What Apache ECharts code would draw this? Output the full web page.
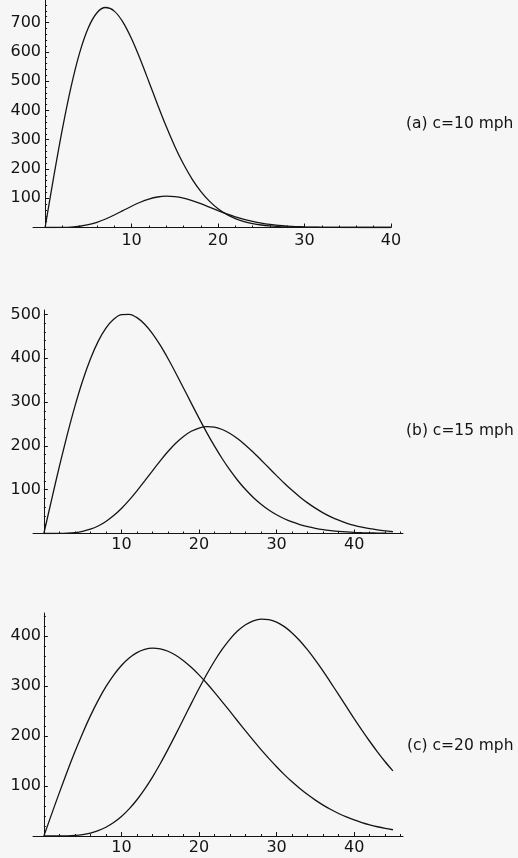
<!DOCTYPE html>
<html>
<head>
<meta charset="utf-8">
<script src="https://cdn.jsdelivr.net/npm/echarts@6/dist/echarts.min.js"></script>
<style>
  html, body { margin: 0; padding: 0; background: #f6f6f6; }
  #chart { width: 518px; height: 858px; }
</style>
</head>
<body>
<div id="chart"></div>
<script>
// wind speed, mph
const speeds = [0, 1, 2, 3, 4, 5, 6, 7, 8, 9, 10, 11, 12, 13, 14, 15, 16, 17, 18, 19, 20,
  21, 22, 23, 24, 25, 26, 27, 28, 29, 30, 31, 32, 33, 34, 35, 36, 37, 38, 39, 40,
  41, 42, 43, 44, 45];

// (a) c = 10 mph : hours per year, and energy curve
const hoursC10 = [0, 173.5, 336.7, 480.4, 597.2, 682.2, 733.4, 751.3, 739.0, 701.5, 644.5,
  574.7, 498.1, 420.3, 345.5, 277.0, 216.7, 165.5, 123.5, 90.1, 64.2,
  44.7, 30.5, 20.3, 13.3, 8.5, 5.3, 3.2, 1.9, 1.1, 0.6,
  0.4, 0.2, 0.1, 0.1, 0, 0, 0, 0, 0, 0];
const energyC10 = [0, 0, 0.3, 1.5, 4.3, 9.6, 17.9, 29.1, 42.7, 57.7, 72.7,
  86.3, 97.1, 104.2, 107.0, 105.5, 100.2, 91.8, 81.3, 69.7, 57.9,
  46.7, 36.6, 27.9, 20.7, 14.9, 10.5, 7.2, 4.8, 3.1, 2.0,
  1.2, 0.7, 0.4, 0.3, 0.1, 0.1, 0, 0, 0, 0];

// (b) c = 15 mph
const hoursC15 = [0, 77.5, 153.0, 224.4, 290.1, 348.4, 398.1, 438.4, 468.7, 488.9, 499.3,
  500.2, 492.7, 477.6, 456.2, 429.7, 399.3, 366.4, 332.1, 297.4, 263.2,
  230.3, 199.3, 170.6, 144.5, 121.0, 100.3, 82.3, 66.9, 53.8, 42.8,
  33.7, 26.3, 20.3, 15.6, 11.8, 8.8, 6.6, 4.8, 3.5, 2.5,
  1.8, 1.3, 0.9, 0.6, 0.4];
const energyC15 = [0, 0, 0.1, 0.7, 2.1, 5.0, 9.8, 17.2, 27.4, 40.8, 57.1,
  76.1, 97.3, 120.0, 143.1, 165.8, 187.0, 205.8, 221.4, 233.2, 240.7,
  243.9, 242.6, 237.3, 228.3, 216.2, 201.6, 185.3, 167.8, 149.9, 132.1,
  114.8, 98.5, 83.5, 69.9, 57.8, 47.1, 38.0, 30.3, 23.9, 18.6,
  14.3, 10.9, 8.2, 6.1, 4.5];

// (c) c = 20 mph
const hoursC20 = [0, 43.7, 86.7, 128.5, 168.3, 205.7, 240.2, 271.3, 298.6, 321.9, 341.1,
  356.0, 366.7, 373.2, 375.7, 374.3, 369.5, 361.5, 350.7, 337.5, 322.3,
  305.4, 287.3, 268.4, 249.1, 229.5, 210.1, 191.1, 172.7, 155.2, 138.5,
  122.8, 108.3, 95.0, 82.8, 71.7, 61.8, 52.9, 45.0, 38.1, 32.1,
  26.9, 22.4, 18.5, 15.2, 12.5];
const energyC20 = [0, 0, 0.1, 0.4, 1.2, 2.9, 5.9, 10.6, 17.5, 26.9, 39.0,
  54.2, 72.5, 93.8, 117.9, 144.5, 173.2, 203.2, 234.0, 264.8, 294.9,
  323.6, 350.0, 373.6, 393.9, 410.3, 422.5, 430.4, 433.8, 432.9, 427.8,
  418.7, 406.2, 390.5, 372.1, 351.7, 329.6, 306.4, 282.6, 258.7, 234.9,
  211.8, 189.5, 168.4, 148.5, 130.1];

// tick labels
const xTickLabels = [10, 20, 30, 40];
const xMinorTicks = [2, 4, 6, 8, 12, 14, 16, 18, 22, 24, 26, 28, 32, 34, 36, 38, 42, 44, 46];
const yTickLabelsA = [100, 200, 300, 400, 500, 600, 700];
const yTickLabelsB = [100, 200, 300, 400, 500];
const yTickLabelsC = [100, 200, 300, 400];
const yMinorTicks = [20, 40, 60, 80, 120, 140, 160, 180, 220, 240, 260, 280, 320, 340, 360, 380,
  420, 440, 460, 480, 520, 540, 560, 580, 620, 640, 660, 680, 720, 740, 760];
const panelNames = ['(a) c=10 mph', '(b) c=15 mph', '(c) c=20 mph'];

const ink = '#141414';
const font = 'DejaVu Sans';

const panels = [
  { box: { left: 33, top: 0, width: 358, height: 227.5 }, xMax: 40, yMax: 777,
    yLabels: yTickLabelsA, xMargin: 5, title: { left: 406, top: 116 },
    curves: [hoursC10, energyC10] },
  { box: { left: 33, top: 310, width: 370, height: 223.5 }, xMax: 46.3, yMax: 510,
    yLabels: yTickLabelsB, xMargin: 3, title: { left: 406, top: 423 },
    curves: [hoursC15, energyC15] },
  { box: { left: 33, top: 613, width: 370, height: 223 }, xMax: 46.3, yMax: 446,
    yLabels: yTickLabelsC, xMargin: 4, title: { left: 407, top: 738 },
    curves: [hoursC20, energyC20] }
];

function pairs(values) {
  return values.map((v, i) => [speeds[i], v]);
}

const grid = [], xAxis = [], yAxis = [], series = [], title = [];

panels.forEach((p, i) => {
  grid.push(Object.assign({ outerBoundsMode: 'none', containLabel: false }, p.box));

  // major x axis with labels
  xAxis.push({
    type: 'value', gridIndex: i, min: -1.4, max: p.xMax, position: 'bottom',
    splitLine: { show: false },
    axisLine: { onZero: false, lineStyle: { color: ink, width: 1 } },
    axisTick: { inside: true, length: 4, customValues: xTickLabels, lineStyle: { color: ink } },
    axisLabel: { customValues: xTickLabels, margin: p.xMargin, color: ink, fontSize: 16, fontFamily: font }
  });
  // minor x ticks
  xAxis.push({
    type: 'value', gridIndex: i, min: -1.4, max: p.xMax, position: 'bottom',
    splitLine: { show: false },
    axisLine: { show: false, onZero: false },
    axisTick: { inside: true, length: 2, customValues: xMinorTicks.filter(v => v < p.xMax), lineStyle: { color: ink } },
    axisLabel: { show: false }
  });

  // major y axis, sits on x = 0 (labels stay at grid edge, so pull them in)
  yAxis.push({
    type: 'value', gridIndex: i, min: 0, max: p.yMax, position: 'left',
    splitLine: { show: false },
    axisLine: { onZero: true, lineStyle: { color: ink, width: 1 } },
    axisTick: { inside: true, length: 4, customValues: p.yLabels, lineStyle: { color: ink } },
    axisLabel: { customValues: p.yLabels, margin: -8, color: ink, fontSize: 16, fontFamily: font }
  });
  // minor y ticks
  yAxis.push({
    type: 'value', gridIndex: i, min: 0, max: p.yMax, position: 'left',
    splitLine: { show: false },
    axisLine: { show: false, onZero: true },
    axisTick: { inside: true, length: 2, customValues: yMinorTicks.filter(v => v < p.yMax), lineStyle: { color: ink } },
    axisLabel: { show: false }
  });

  p.curves.forEach((values) => {
    series.push({
      type: 'line',
      xAxisIndex: 2 * i,
      yAxisIndex: 2 * i,
      data: pairs(values),
      smooth: 0.3,
      showSymbol: false,
      lineStyle: { color: ink, width: 1.3 },
      emphasis: { disabled: true }
    });
  });

  title.push({
    text: panelNames[i],
    left: p.title.left,
    top: p.title.top,
    padding: 0,
    textStyle: { color: ink, fontSize: 15.5, fontWeight: 'normal', fontFamily: font }
  });
});

const chart = echarts.init(document.getElementById('chart'));
chart.setOption({
  backgroundColor: '#f6f6f6',
  animation: false,
  title: title,
  grid: grid,
  xAxis: xAxis,
  yAxis: yAxis,
  series: series
});
</script>
</body>
</html>
